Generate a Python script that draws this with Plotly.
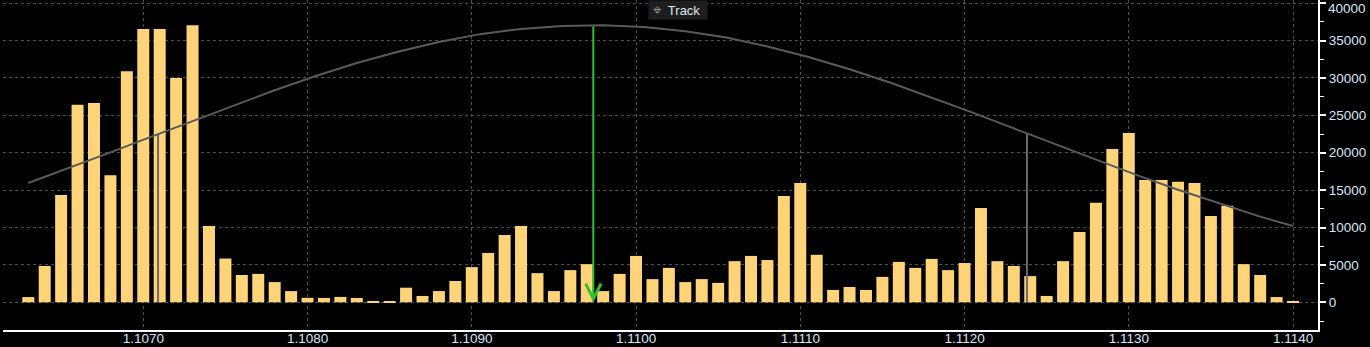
import plotly.graph_objects as go

# ---- data ----
price_levels = [
    1.1063, 1.1064, 1.1065, 1.1066, 1.1067, 1.1068, 1.1069, 1.1070, 1.1071, 1.1072,
    1.1073, 1.1074, 1.1075, 1.1076, 1.1077, 1.1078, 1.1079, 1.1080, 1.1081, 1.1082,
    1.1083, 1.1084, 1.1085, 1.1086, 1.1087, 1.1088, 1.1089, 1.1090, 1.1091, 1.1092,
    1.1093, 1.1094, 1.1095, 1.1096, 1.1097, 1.1098, 1.1099, 1.1100, 1.1101, 1.1102,
    1.1103, 1.1104, 1.1105, 1.1106, 1.1107, 1.1108, 1.1109, 1.1110, 1.1111, 1.1112,
    1.1113, 1.1114, 1.1115, 1.1116, 1.1117, 1.1118, 1.1119, 1.1120, 1.1121, 1.1122,
    1.1123, 1.1124, 1.1125, 1.1126, 1.1127, 1.1128, 1.1129, 1.1130, 1.1131, 1.1132,
    1.1133, 1.1134, 1.1135, 1.1136, 1.1137, 1.1138, 1.1139, 1.1140,
]
volumes = [
    700, 4850, 14350, 26400, 26650, 17000, 30900, 36550, 36550, 30000,
    37050, 10200, 5850, 3650, 3800, 2700, 1500, 600, 580, 720,
    580, 180, 50, 1950, 850, 1500, 2850, 4700, 6600, 9000,
    10200, 3900, 1500, 4300, 5100, 1500, 3800, 6200, 3100, 4600,
    2700, 3100, 2600, 5500, 6200, 5650, 14200, 15950, 6350, 1650,
    2050, 1650, 3400, 5400, 4600, 5800, 4300, 5250, 12600, 5500,
    4850, 3500, 850, 5500, 9400, 13300, 20500, 22650, 16350, 16350,
    16100, 15950, 11550, 12900, 5100, 3650, 700, 100,
]

curve_x = [
    1.10630, 1.10655, 1.10680, 1.10705, 1.10730, 1.10755, 1.10780, 1.10805,
    1.10830, 1.10855, 1.10880, 1.10905, 1.10930, 1.10955, 1.10974, 1.10980,
    1.11005, 1.11030, 1.11055, 1.11080, 1.11105, 1.11130, 1.11155, 1.11180,
    1.11205, 1.11230, 1.11255, 1.11280, 1.11305, 1.11330, 1.11355, 1.11380,
    1.11400,
]
curve_y = [
    15950, 17950, 20050, 22150, 24250, 26350, 28350, 30250,
    32000, 33500, 34800, 35850, 36550, 36950, 37070, 37050,
    36800, 36250, 35400, 34200, 32800, 31150, 29350, 27400,
    25350, 23250, 21150, 19050, 17000, 15050, 13200, 11450,
    10200,
]

mean_price = 1.10974
mean_top = 37070
sigma_prices = [1.10709, 1.11238]
sigma_tops = [22500, 22500]

x_ticks = [1.1070, 1.1080, 1.1090, 1.1100, 1.1110, 1.1120, 1.1130, 1.1140]
x_tick_labels = ["1.1070", "1.1080", "1.1090", "1.1100", "1.1110", "1.1120", "1.1130", "1.1140"]
y_ticks = [0, 5000, 10000, 15000, 20000, 25000, 30000, 35000, 40000]
y_tick_labels = ["0", "5000", "10000", "15000", "20000", "25000", "30000", "35000", "40000"]
y_minor_ticks = [-2500, 2500, 7500, 12500, 17500, 22500, 27500, 32500, 37500]

# ---- figure ----
LABEL = "#d6e6f6"
GRID = "#4d4d4d"
FONT = "Liberation Sans"
TICK_SIZE = 13.5

fig = go.Figure()

fig.add_trace(go.Bar(
    x=price_levels, y=volumes,
    marker=dict(color="#ffd479", line=dict(width=0)),
    showlegend=False, hoverinfo="skip",
))

sx, sy = [], []
for p, t in zip(sigma_prices, sigma_tops):
    sx += [p, p, None]
    sy += [0, t, None]
fig.add_trace(go.Scatter(
    x=sx, y=sy, mode="lines",
    line=dict(color="#6a6a6a", width=2),
    showlegend=False, hoverinfo="skip",
))

fig.add_trace(go.Scatter(
    x=curve_x, y=curve_y, mode="lines",
    line=dict(color="#5a5a5a", width=2),
    showlegend=False, hoverinfo="skip",
))

fig.add_annotation(
    x=mean_price, y=0, ax=mean_price, ay=mean_top,
    xref="x", yref="y", axref="x", ayref="y",
    text="", showarrow=True, arrowhead=5, arrowsize=1.5,
    arrowwidth=2, arrowcolor="#2fc42f", standoff=0, startstandoff=0,
)

# "Track" badge
fig.add_annotation(
    x=0.5136, y=1.0, xref="paper", yref="paper",
    xanchor="center", yanchor="top",
    text=("&nbsp;<span style='font-family:DejaVu Sans;font-size:15px;color:#8c8c8c'>⌖</span>"
          "&nbsp;&nbsp;Track&nbsp;&nbsp;"),
    showarrow=False, bgcolor="#1e1e1e", borderpad=0,
    font=dict(family=FONT, size=13, color="#dfe8f0"),
)

# top y label, nudged down so it stays inside the page (as in the reference)
top_idx = len(y_ticks) - 1
axis_tick_labels = y_tick_labels[:top_idx] + [""]
fig.add_annotation(
    x=1, xref="paper", y=y_ticks[top_idx], yref="y",
    xanchor="left", yanchor="top", xshift=8, yshift=4,
    text=y_tick_labels[top_idx], showarrow=False,
    font=dict(family=FONT, size=TICK_SIZE, color=LABEL),
)

fig.update_layout(
    width=1370, height=347,
    margin=dict(l=3, r=52, t=0, b=17),
    paper_bgcolor="#000000", plot_bgcolor="#000000",
    bargap=0.27,
    font=dict(family=FONT, size=TICK_SIZE, color=LABEL),
    showlegend=False,
)

fig.update_xaxes(
    range=[1.106146, 1.114152],
    tickvals=x_ticks, ticktext=x_tick_labels,
    showgrid=True, gridcolor=GRID, griddash="dot", gridwidth=1,
    showline=True, linecolor="#ffffff", linewidth=2,
    ticks="", zeroline=False, automargin=False, ticklabelstandoff=-5,
    tickfont=dict(family=FONT, size=TICK_SIZE, color=LABEL),
)

fig.update_yaxes(
    side="right",
    range=[-3703, 40414],
    tickvals=y_ticks, ticktext=axis_tick_labels,
    showgrid=True, gridcolor=GRID, griddash="dot", gridwidth=1,
    showline=True, linecolor="#ffffff", linewidth=2,
    ticks="outside", ticklen=6, tickwidth=2, tickcolor="#ffffff",
    minor=dict(tickvals=y_minor_ticks,
               ticks="outside", ticklen=4, tickwidth=1, tickcolor="#ffffff", showgrid=False),
    zeroline=False, automargin=False,
    tickfont=dict(family=FONT, size=TICK_SIZE, color=LABEL),
)

fig.write_html("out.html")
